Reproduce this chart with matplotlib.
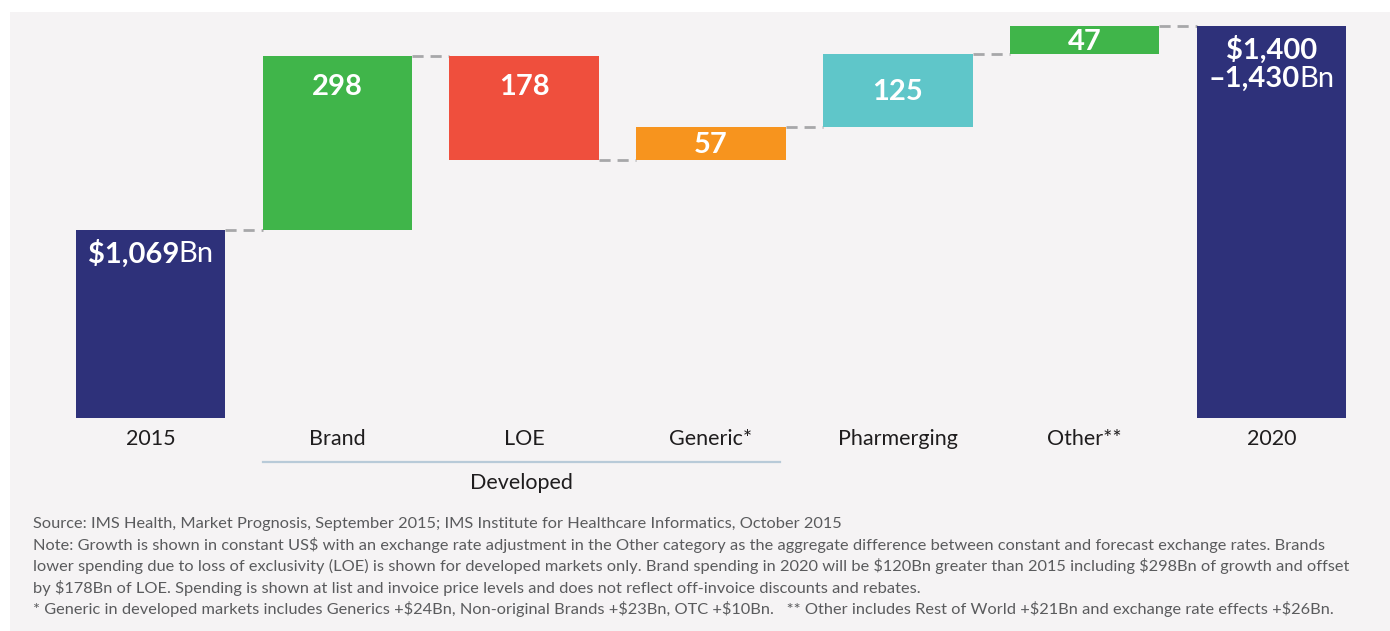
import matplotlib
matplotlib.use("Agg")
import matplotlib.pyplot as plt
from matplotlib.patches import Rectangle
from matplotlib.lines import Line2D

# ---- data ----
categories = ["2015", "Brand", "LOE", "Generic*", "Pharmerging", "Other**", "2020"]
start_value = 1069
deltas = [298, -178, 57, 125, 47]
end_value = 1418
value_labels = ["298", "178", "57", "125", "47"]
delta_colors = ["#40b54a", "#ef4f3d", "#f7941e", "#5fc6c9", "#40b54a"]
total_color = "#2e317a"
group_label = "Developed"
group_members = ["Brand", "LOE", "Generic*"]
notes = [
    "Source: IMS Health, Market Prognosis, September 2015; IMS Institute for Healthcare Informatics, October 2015",
    "Note: Growth is shown in constant US$ with an exchange rate adjustment in the Other category as the aggregate difference between constant and forecast exchange rates. Brands",
    "lower spending due to loss of exclusivity (LOE) is shown for developed markets only. Brand spending in 2020 will be $120Bn greater than 2015 including $298Bn of growth and offset",
    "by $178Bn of LOE. Spending is shown at list and invoice price levels and does not reflect off-invoice discounts and rebates.",
    "* Generic in developed markets includes Generics +$24Bn, Non-original Brands +$23Bn, OTC +$10Bn.   ** Other includes Rest of World +$21Bn and exchange rate effects +$26Bn.",
]

FONT = "Lato"
W, H = 1390, 631
fig = plt.figure(figsize=(W / 100, H / 100), dpi=100)
fig.patch.set_facecolor("white")

# panel background
fig.patches.append(Rectangle((10 / W, 0), (W - 10) / W, (H - 12) / H,
                             transform=fig.transFigure, facecolor="#f5f3f4",
                             edgecolor="none", zorder=-5))

base = 746
scale = 0.583  # px per unit
ax_left, ax_right = 57, 1365
ax_bottom_px, ax_top_px = 418, 20
ax = fig.add_axes([ax_left / W, 1 - ax_bottom_px / H,
                   (ax_right - ax_left) / W, (ax_bottom_px - ax_top_px) / H])
ax.set_facecolor("none")
ax.set_xlim(-0.5, len(categories) - 0.5)
ax.set_ylim(base, base + (ax_bottom_px - ax_top_px) / scale)
for s in ax.spines.values():
    s.set_visible(False)
ax.set_xticks([])
ax.set_yticks([])

bw = 0.8
ax.bar(0, start_value - base, bottom=base, width=bw, color=total_color, zorder=2)
running = start_value
levels = [start_value]
for i, d in enumerate(deltas):
    lo = min(running, running + d)
    ax.bar(i + 1, abs(d), bottom=lo, width=bw, color=delta_colors[i], zorder=2)
    running += d
    levels.append(running)
ax.bar(len(categories) - 1, end_value - base, bottom=base, width=bw,
       color=total_color, zorder=2)

# connectors
for i in range(len(categories) - 1):
    lvl = levels[i]
    ax.plot([i + bw / 2, i + 1 - bw / 2], [lvl, lvl], color="#a7a7a9",
            lw=2, ls=(0, (4, 2.5)), zorder=1, solid_capstyle="butt")

VFS = 21
DY = 4  # small downward nudge of labels (data units)
running = start_value
for i, d in enumerate(deltas):
    hi = max(running, running + d)
    lo = min(running, running + d)
    y = hi - 50 if abs(d) > 150 else (hi + lo) / 2
    ax.text(i + 1, y - DY, value_labels[i], ha="center", va="center", color="white",
            fontsize=VFS, fontweight="bold", family=FONT, zorder=3, parse_math=False)
    running += d

fig.canvas.draw()
renderer = fig.canvas.get_renderer()


def two_part(xc, y, bold, light):
    tb = ax.text(0, y, bold, ha="left", va="center", color="white", fontsize=VFS,
                 fontweight="bold", family=FONT, zorder=3, parse_math=False)
    tl = ax.text(0, y, light, ha="left", va="center", color="white", fontsize=VFS,
                 family=FONT, zorder=3, parse_math=False)
    wb = tb.get_window_extent(renderer).width - 1
    wl = tl.get_window_extent(renderer).width
    xc_px = ax.transData.transform((xc, y))[0]
    x0 = xc_px - (wb + wl) / 2
    inv = ax.transData.inverted()
    tb.set_x(inv.transform((x0, 0))[0])
    tl.set_x(inv.transform((x0 + wb, 0))[0])


two_part(0, start_value - 38 - DY, "$1,069", "Bn")
ax.text(len(categories) - 1, end_value - 37 - DY, "$1,400", ha="center", va="center",
        color="white", fontsize=VFS, fontweight="bold", family=FONT, zorder=3,
        parse_math=False)
two_part(len(categories) - 1, end_value - 87 - DY, "\u20131,430", "Bn")

# category labels
for i, c in enumerate(categories):
    xpx = ax.transData.transform((i, base))[0]
    fig.text(xpx / W, 1 - 439 / H, c, ha="center", va="center", fontsize=15.5,
             family=FONT, color="#1f1d1e")

# group line + label
x1 = ax.transData.transform((categories.index(group_members[0]) - bw / 2, base))[0]
x2 = ax.transData.transform((categories.index(group_members[-1]) + bw / 2 - 0.03, base))[0]
fig.add_artist(Line2D([x1 / W, x2 / W], [1 - 462 / H, 1 - 462 / H],
                      transform=fig.transFigure, color="#b8cad8", lw=1.6))
fig.text(((x1 + x2) / 2) / W, 1 - 483 / H, group_label, ha="center", va="center",
         fontsize=15.5, family=FONT, color="#1f1d1e")

# notes
for k, line in enumerate(notes):
    fig.text(33 / W, 1 - (524 + 21.2 * k) / H, line, ha="left", va="center",
             fontsize=11.8, family=FONT, color="#5a5b5d", parse_math=False)

fig.savefig("out.png", dpi=100, facecolor="white")
